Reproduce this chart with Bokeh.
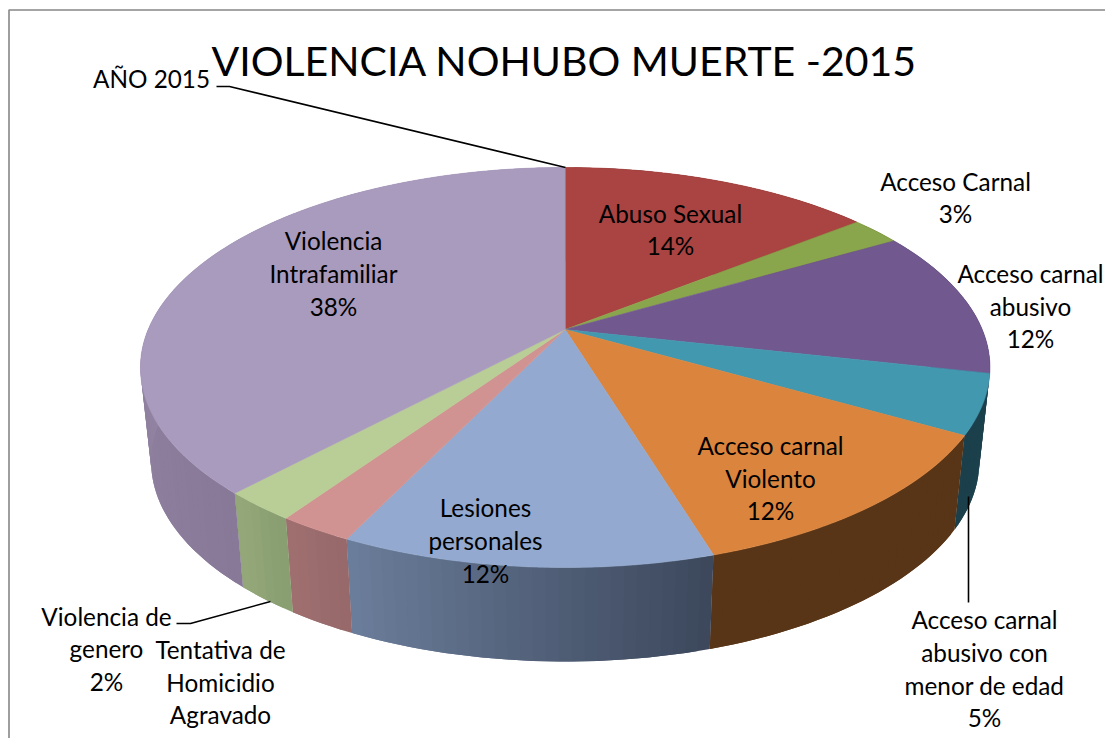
import numpy as np
from bokeh.plotting import figure
from bokeh.embed import file_html
from bokeh.resources import INLINE
from bokeh.core.properties import value

# Data, clockwise from 12 o'clock (shares, labels as printed)
categories = ["Abuso Sexual", "Acceso Carnal", "Acceso carnal abusivo",
              "Acceso carnal abusivo con menor de edad", "Acceso carnal Violento",
              "Lesiones personales", "Tentativa de Homicidio Agravado",
              "Violencia de genero", "Violencia Intrafamiliar"]
shares = [14.3, 2.3, 11.9, 4.8, 12.0, 11.85, 2.4, 2.4, 38.05]

top_colors = ["#A94442", "#8AA64C", "#71588F", "#4198AF", "#DB843D",
              "#93A9CF", "#D19392", "#B9CD96", "#A99BBD"]
side_start = ["#6E2C2B", "#5A6C32", "#4A3A5E", "#1B424E", "#593517",
              "#3C475B", "#96686A", "#889E70", "#877997"]
side_end = ["#6E2C2B", "#5A6C32", "#4A3A5E", "#1B3F4B", "#593517",
            "#6B7E9B", "#A07070", "#95A87A", "#A596B5"]

label_lines = [
    (["Abuso Sexual", "14%"], 670, [213, 245]),
    (["Acceso Carnal", "3%"], 955, [181, 213]),
    (["Acceso carnal", "abusivo", "12%"], 1030, [273, 306, 338]),
    (["Acceso carnal", "abusivo con", "menor de edad", "5%"], 984, [619, 652, 685, 717]),
    (["Acceso carnal", "Violento", "12%"], 770, [445, 478, 510]),
    (["Lesiones", "personales", "12%"], 485, [507, 540, 573]),
    (["Tentativa de", "Homicidio", "Agravado"], 220, [649, 682, 714]),
    (["Violencia de", "genero", "2%"], 106, [616, 648, 681]),
    (["Violencia", "Intrafamiliar", "38%"], 333, [240, 273, 306]),
    (["AÑO 2015"], 151, [78]),
]
title_text = "VIOLENCIA NOHUBO MUERTE -2015"

FONT = value("Lato")
CX, CY, A, B, K = 564.7, 329.0, 192.8, 417.0, 0.19
DEPTH, SHRINK = 94.0, 0.975


def top_ring(t):
    u, v = np.sin(t), -np.cos(t)
    d = 1 - K * v
    return CX + B * u / d, CY + A * v / d


def bottom_ring(t):
    x, y = top_ring(t)
    return CX + (x - CX) * SHRINK, y + DEPTH


def hex2rgb(h):
    return np.array([int(h[i:i + 2], 16) for i in (1, 3, 5)], dtype=float)


def mix(a, b, f):
    c = hex2rgb(a) * (1 - f) + hex2rgb(b) * f
    return "#%02x%02x%02x" % tuple(int(round(x)) for x in c)


p = figure(width=1105, height=738, x_range=(0, 1105), y_range=(738, 0),
           output_backend="svg", toolbar_location=None, min_border=0, tools="")
p.axis.visible = False
p.grid.visible = False
p.outline_line_color = None
p.background_fill_color = "white"

fractions = np.array(shares) / sum(shares)
edges = np.concatenate([[0], np.cumsum(fractions)]) * 2 * np.pi

# sides: overlapping shaded strips, drawn clockwise
xs, ys, cs = [], [], []
for i in range(len(shares)):
    n = max(int((edges[i + 1] - edges[i]) / 0.025), 2)
    ts = np.linspace(edges[i], edges[i + 1], n + 1)
    for j in range(n):
        t = ts[j:j + 3] if j + 2 <= n else ts[j:j + 2]
        tx, ty = top_ring(t)
        bx, by = bottom_ring(t)
        xs.append(np.r_[tx, bx[::-1]].tolist())
        ys.append(np.r_[ty, by[::-1]].tolist())
        cs.append(mix(side_start[i], side_end[i], (j + 0.5) / n))
p.patches(xs, ys, fill_color=cs, line_color=None)

# top faces
for i in range(len(shares)):
    ts = np.linspace(edges[i], edges[i + 1], 160)
    tx, ty = top_ring(ts)
    p.patch(np.r_[CX, tx], np.r_[CY, ty], fill_color=top_colors[i],
            line_color=top_colors[i], line_width=0.6)

# chart frame (left and top only remain inside the photograph)
p.line([8.5, 8.5, 1105], [738, 9.5, 9.5], line_color="#868686", line_width=1.6)

# leader lines
p.line([216, 229, 565], [86, 86, 167], line_color="black", line_width=1.6)
p.line([176, 190, 270], [623, 623, 601], line_color="black", line_width=1.6)
p.line([968, 968], [496, 602], line_color="black", line_width=1.6)

# labels
tx, ty, tt = [], [], []
for lines, x, yy in label_lines:
    for s, y in zip(lines, yy):
        tx.append(x); ty.append(y); tt.append(s)
p.text(tx, ty, text=tt, text_font=FONT, text_font_size="24.3px", text_color="black",
       text_align="center", text_baseline="middle")
p.text([564], [60], text=[title_text], text_font=FONT, text_font_size="41px",
       text_color="black", text_align="center", text_baseline="middle")

open("out.html", "w").write(file_html(p, INLINE))
